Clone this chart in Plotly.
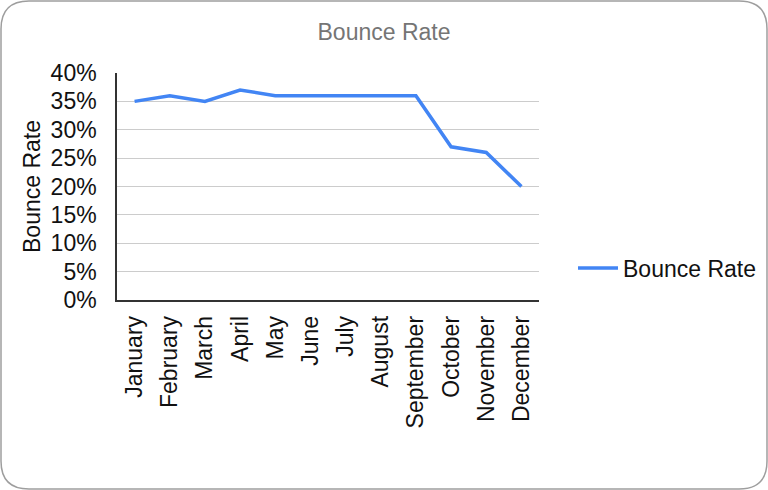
import plotly.graph_objects as go

months = ["January", "February", "March", "April", "May", "June", "July",
          "August", "September", "October", "November", "December"]
bounce_rate = [0.35, 0.36, 0.35, 0.37, 0.36, 0.36, 0.36, 0.36, 0.36, 0.27, 0.26, 0.20]
y_ticks = [0, 0.05, 0.10, 0.15, 0.20, 0.25, 0.30, 0.35, 0.40]
y_labels = ["0%", "5%", "10%", "15%", "20%", "25%", "30%", "35%", "40%"]

W, H = 768, 490
ML, MR, MT, MB = 117, 229, 73, 190
PW, PH = W - ML - MR, H - MT - MB

def px(x):
    return (x - ML) / PW

def py(y):
    return (H - MB - y) / PH

def rounded_rect(x0, y0, x1, y1, r):
    pts = [
        f"M {px(x0 + r)},{py(y0)}",
        f"L {px(x1 - r)},{py(y0)}",
        f"Q {px(x1)},{py(y0)} {px(x1)},{py(y0 + r)}",
        f"L {px(x1)},{py(y1 - r)}",
        f"Q {px(x1)},{py(y1)} {px(x1 - r)},{py(y1)}",
        f"L {px(x0 + r)},{py(y1)}",
        f"Q {px(x0)},{py(y1)} {px(x0)},{py(y1 - r)}",
        f"L {px(x0)},{py(y0 + r)}",
        f"Q {px(x0)},{py(y0)} {px(x0 + r)},{py(y0)}",
        "Z",
    ]
    return " ".join(pts)

FONT = "Liberation Sans, Arial, sans-serif"
FS = 23

fig = go.Figure()
fig.add_trace(go.Scatter(
    x=months, y=bounce_rate, mode="lines", name="Bounce Rate",
    line=dict(color="#4285F4", width=3.5),
))

fig.update_layout(
    width=W, height=H, autosize=False,
    margin=dict(l=ML, r=MR, t=MT, b=MB, pad=0),
    paper_bgcolor="white", plot_bgcolor="white",
    font=dict(family=FONT, size=FS, color="#111111"),
    title=dict(text="Bounce Rate", x=0.5, xref="container", xanchor="center",
               y=1 - 32 / H, yref="container", yanchor="middle",
               font=dict(family=FONT, size=FS, color="#757575")),
    showlegend=True,
    legend=dict(xref="container", yref="container",
                x=573 / W, xanchor="left", y=1 - 268 / H, yanchor="middle",
                font=dict(family=FONT, size=FS, color="#111111"),
                bgcolor="rgba(0,0,0,0)", itemwidth=40),
    shapes=[dict(type="path", xref="paper", yref="paper",
                 path=rounded_rect(1, 1, 767, 489, 28),
                 line=dict(color="#9e9e9e", width=1.5), layer="below")],
)

fig.update_xaxes(
    type="category", range=[-0.5, 11.5],
    tickangle=-90, showgrid=False, ticks="",
    showline=True, linecolor="#333333", linewidth=1.5,
    tickfont=dict(family=FONT, size=FS, color="#111111"),
    ticklabelstandoff=5,
)
fig.update_yaxes(
    range=[0, 0.40], tickvals=y_ticks, ticktext=y_labels,
    showgrid=True, gridcolor="#cccccc", gridwidth=1,
    showline=True, linecolor="#333333", linewidth=1.5,
    zeroline=False, ticks="",
    tickfont=dict(family=FONT, size=FS, color="#111111"),
    ticklabelstandoff=14,
    title=dict(text="Bounce Rate", font=dict(family=FONT, size=FS, color="#111111"), standoff=4),
)

fig.write_html("out.html", config={"displayModeBar": False, "responsive": False},
               post_script="document.body.style.margin='0';")
